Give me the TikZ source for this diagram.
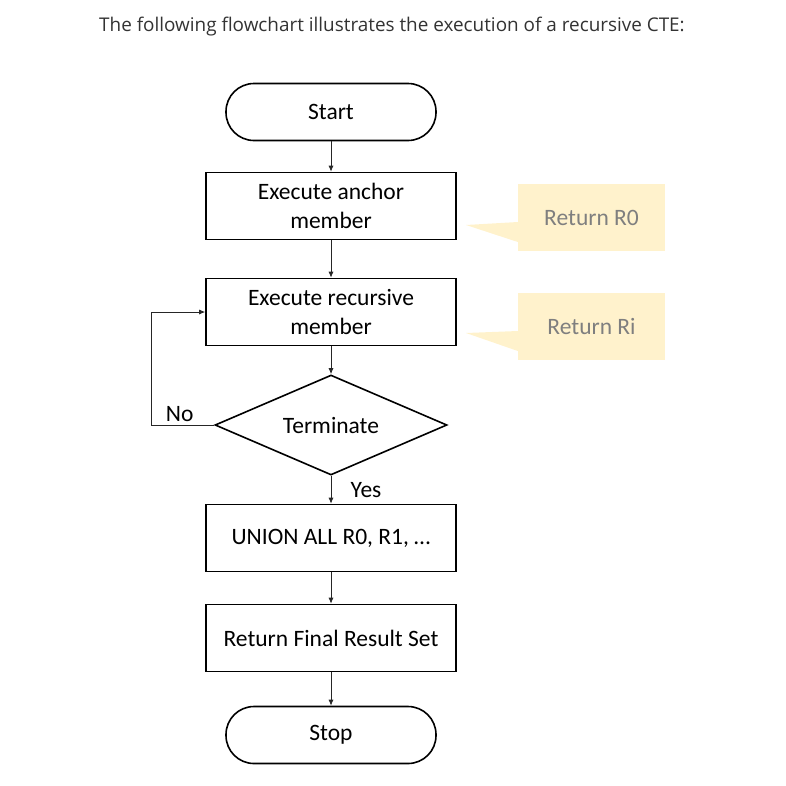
\documentclass[tikz,border=0pt]{standalone}
\usepackage{fontspec}
\setmainfont{Carlito}
\newfontfamily\titlefont{Open Sans}
\usetikzlibrary{shapes.geometric,arrows.meta}
\definecolor{noteyellow}{HTML}{FFF2CC}
\definecolor{notegray}{HTML}{7F7F7F}
\begin{document}
\begin{tikzpicture}[x = 1pt, y = -1pt, align = center, font = \fontsize{23.5}{29}\selectfont,
    box/.style = {draw, line width = 1.6pt, minimum width = 250pt, minimum height = 67pt},
    terminal/.style = {draw, line width = 1.6pt, rounded corners = 28pt, minimum width = 210pt, minimum height = 57pt},
    decision/.style = {draw, diamond, aspect = 2.32, line width = 1.6pt, minimum width = 232pt, minimum height = 100pt, inner sep = 0pt},
    note/.style = {fill = noteyellow, text = notegray, minimum width = 147pt, minimum height = 67pt},
    link/.style = {-{Latex[length = 6pt, width = 5pt]}, line width = 0.8pt, black!85}]
  \useasboundingbox (0,0) rectangle (786,785);
  \node[anchor = base west, inner sep = 0pt, font = \titlefont\fontsize{18.9}{22}\selectfont, text = black!80] (title) at (99,31) {The following flowchart illustrates the execution of a recursive CTE:};
  \node[terminal] (start) at (331,112) {Start};
  \node[box] (anchor) at (331,206) {Execute anchor \\ member};
  \node[box] (recur) at (331,312) {Execute recursive \\ member};
  \node[decision] (term) at (331,425) {Terminate};
  \node[box] (union) at (331,538) {UNION ALL R0, R1, …};
  \node[box] (result) at (331,638) {Return Final Result Set};
  \node[terminal] (stop) at (331,735) {Stop};
  \node[note] (ret0) at (591.5,217.5) {Return R0};
  \node[note] (reti) at (591.5,326.5) {Return Ri};
  \coordinate (tip0) at (466,225);
  \coordinate (tipi) at (466,333);
  \fill[noteyellow] ([yshift = -4.5pt]ret0.west) -- (tip0) -- ([yshift = -24.5pt]ret0.west) -- cycle;
  \fill[noteyellow] ([yshift = -4.5pt]reti.west) -- (tipi) -- ([yshift = -24.5pt]reti.west) -- cycle;
  \coordinate (loop) at (151,425);
  \draw[link] (start) -- (anchor);
  \draw[link] (anchor) -- (recur);
  \draw[link] (recur) -- (term);
  \draw[link] (term) -- node[right, xshift = 16pt, text = black] {Yes} (union);
  \draw[link] (union) -- (result);
  \draw[link] (result) -- (stop);
  \draw[link] (term.west) -- node[above, xshift = -3pt, text = black] {No} (loop) |- (recur.west);
\end{tikzpicture}
\end{document}
